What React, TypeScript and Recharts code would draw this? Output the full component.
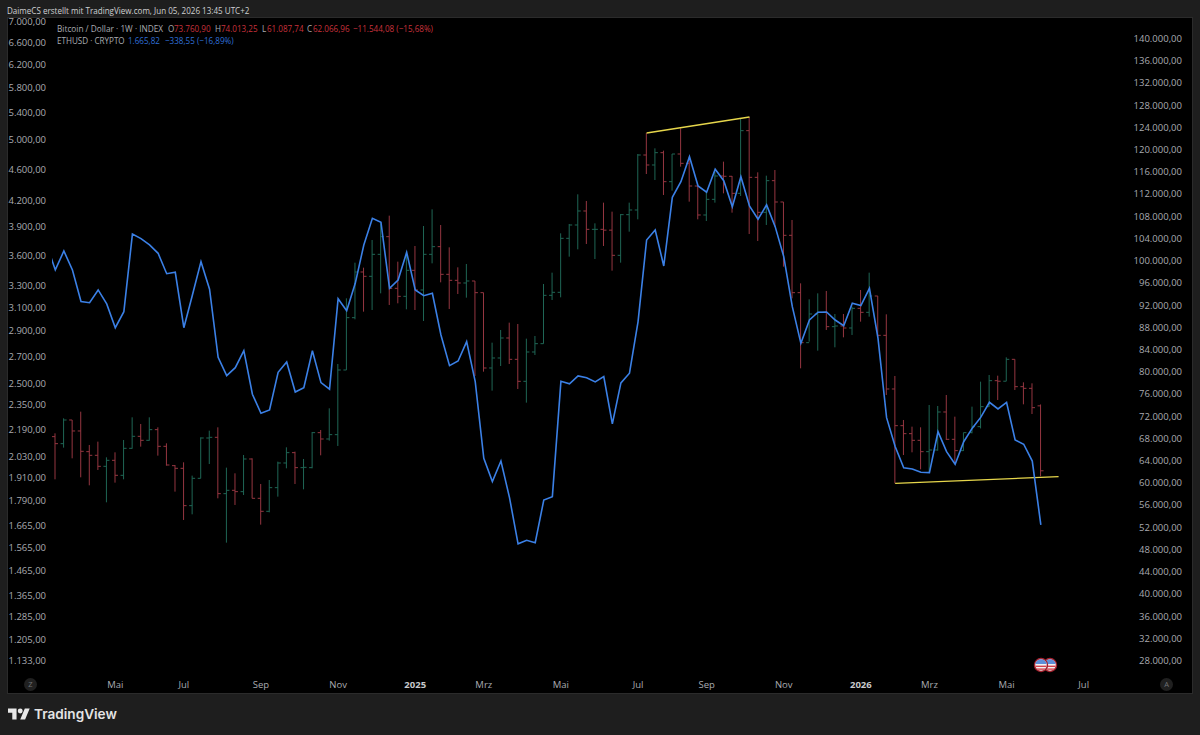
import React from "react";
import { ComposedChart, Bar, Line, XAxis, YAxis, ReferenceLine } from "recharts";

const btcOpen = [68215,66955,71216,69236,65514,64854,62873,63954,61252,66114,68275,67555,69476,66474,62993,62513,55791,60712,67975,68095,57951,58551,58311,64193,57111,54771,59032,63473,65334,62633,62633,68935,67795,68575,80219,89642,97865,97085,101046,104227,94924,93483,98165,94624,101046,102426,97445,96364,95884,96244,94144,80579,82380,85981,82139,78178,83460,84961,93663,94204,103927,106328,108849,105548,105548,105400,100866,108189,109029,118932,117132,119353,114131,119112,117432,113350,108129,110950,115151,115100,112030,123314,114911,108609,114311,110470,104468,94143,85140,90302,90602,88021,88141,87781,91322,90602,93543,86460,76797,70195,68755,67554,65513,65814,72656,67734,65694,68934,70015,73616,78298,78200,82139,77217,76917,73760.9];
const btcHigh = [68815,71516,71216,72716,66714,67315,64494,65394,67615,71696,70495,71696,69896,67014,63113,63593,61193,68095,69295,69896,62633,61613,64914,64314,59692,60412,63713,66294,65514,64193,69055,69415,73316,81300,93123,99545,98645,103627,106627,108008,99726,101526,102546,106147,109148,106327,102306,98705,99305,96244,94144,85140,87421,88742,88502,85861,86341,95704,97745,104827,106508,111850,110650,106628,110349,108729,108309,110349,119112,122894,120133,119713,119112,123734,118632,113350,112330,115931,117732,115151,125535,125775,115811,115211,116231,110470,107228,95824,92943,94023,94443,90302,90302,91622,94623,97744,93543,90242,79138,71215,70015,69895,73916,73736,75717,71816,68934,73616,78118,79318,79198,82499,82139,77997,77818,74013.25];
const btcLow = [60532,66234,64314,60892,59452,62213,56391,59932,60532,66054,66414,67495,64794,62993,58312,53210,54230,60712,63293,57111,49128,55911,57711,57111,52370,54590,57411,62513,59692,58732,62513,64854,67495,66535,80219,89342,90722,91022,94023,91923,92223,91143,91022,89042,99425,96004,91202,93903,93243,79138,79919,76498,80939,81299,76798,74337,82920,84961,92823,93303,100626,101947,102907,100206,102547,98105,99546,105128,107348,115511,114431,111730,112510,116832,110530,107348,107048,110349,112030,108549,111550,104708,103447,106328,106028,98826,93124,80519,85320,83700,87421,84300,86101,86520,88921,89822,86220,75717,59812,64913,65393,62332,61792,65694,67614,63413,65634,68815,69700,73600,74817,78200,76617,74036,72296,61087.74];
const btcClose = [66955,71216,69236,65574,64854,62873,63954,61252,66114,68275,67555,69476,66474,63113,62513,55791,60712,67975,68095,57951,58551,58311,64193,57111,54771,59032,63473,65334,62633,62693,68935,67795,68575,80219,89642,97865,97085,101046,104227,94924,93483,98165,94624,101046,102426,97445,96364,95884,96244,94144,80579,82380,85981,82139,78178,83460,84961,93663,94204,103927,106328,108849,105548,105548,105400,100866,108189,109029,118932,117132,119353,114131,119112,117432,113350,108129,110950,115151,115100,112030,123314,114911,108609,114311,110470,104468,94144,85140,90302,90602,88021,88141,87781,91322,90602,93543,86460,76797,70195,68755,67554,65513,65814,72656,67734,65694,68934,70015,73616,78298,78200,82139,77217,76917,73436,62066.96];
const ethClose = [3698,3444,3635,3444,3147,3137,3253,3126,2921,3058,3815,3765,3698,3611,3407,3421,2921,3207,3526,3260,2685,2548,2607,2736,2417,2289,2311,2573,2649,2432,2463,2736,2498,2452,3173,3066,3315,3698,3990,3945,3268,3347,3621,3253,3200,3222,2861,2622,2657,2808,2505,2014,1884,1998,1800,1578,1594,1583,1788,1805,2508,2490,2546,2533,2503,2541,2221,2496,2566,2973,3751,3859,3483,4236,4428,4755,4375,4297,4588,4441,4124,4492,4132,3979,4145,3896,3577,3102,2794,2986,3053,3055,2986,2938,3132,3111,3268,2834,2261,2082,1960,1953,1935,1933,2172,2052,1980,2111,2194,2264,2362,2318,2362,2122,2096,1998,1665.82];

const ethTicks = [7000,6600,6200,5800,5400,5000,4600,4200,3900,3600,3300,3100,2900,2700,2500,2350,2190,2030,1910,1790,1665,1565,1465,1365,1285,1205,1133];
const btcTicks = [140000,136000,132000,128000,124000,120000,116000,112000,108000,104000,100000,96000,92000,88000,84000,80000,76000,72000,68000,64000,60000,56000,52000,48000,44000,40000,36000,32000,28000];
const monthTicks = [7,15,24,33,42,50,59,68,76,85,94,102,111,120];
const monthLabels = ["Mai","Jul","Sep","Nov","2025","Mrz","Mai","Jul","Sep","Nov","2026","Mrz","Mai","Jul"];
const topTrend = [{ x: 69, y: 122894 }, { x: 81, y: 125775 }];
const bottomTrend = [{ x: 98, y: 59816 }, { x: 117.07, y: 61004 }];

const rows: any[] = ethClose.map((eth, k) => {
  const idx = k - 1;
  const b = idx >= 0;
  return {
    idx,
    eth,
    open: b ? btcOpen[idx] : null,
    high: b ? btcHigh[idx] : null,
    low: b ? btcLow[idx] : null,
    close: b ? btcClose[idx] : null,
  };
});

const FONT = "'Open Sans', 'Noto Sans', sans-serif";
const GREEN = "#1f6655";
const RED = "#953640";
const BLUE = "#3b80e6";
const YELLOW = "#e6d64b";
const LABEL = "#a9abb0";
const LEG_RED = "#c8323c";

const fmt = (v: number) =>
  v.toFixed(2).replace(".", ",").replace(/\B(?=(\d{3})+(?!\d))/g, ".");

const OhlcShape = (p: any) => {
  const d = p.payload;
  if (!d || d.open == null || !p.height) return null;
  const cx = p.x + p.width / 2;
  const toY = (v: number) => p.y + ((d.high - v) / (d.high - d.low)) * p.height;
  const color = d.close >= d.open ? GREEN : RED;
  return (
    <g stroke={color} strokeWidth={1} fill="none">
      <line x1={cx} x2={cx} y1={p.y} y2={p.y + p.height} />
      <line x1={cx - 3} x2={cx} y1={toY(d.open)} y2={toY(d.open)} />
      <line x1={cx} x2={cx + 3} y1={toY(d.close)} y2={toY(d.close)} />
    </g>
  );
};

const EthTick = (p: any) => (
  <text x={38} y={p.y + 4.2} textAnchor="end" fontSize={9.5} fontFamily={FONT} fill={LABEL}>
    {fmt(p.payload.value)}
  </text>
);
const BtcTick = (p: any) => (
  <text x={1174} y={p.y + 4} textAnchor="end" fontSize={9.5} fontFamily={FONT} fill={LABEL}>
    {fmt(p.payload.value)}
  </text>
);
const MonthTick = (p: any) => {
  const label = monthLabels[monthTicks.indexOf(p.payload.value)];
  const bold = label === "2025" || label === "2026";
  return (
    <text x={p.x} y={680} textAnchor="middle" fontSize={9.5} fontWeight={bold ? 700 : 400} fontFamily={FONT} fill={bold ? "#c8c9cc" : LABEL}>
      {label}
    </text>
  );
};

const Flag = ({ left }: { left: number }) => (
  <svg style={{ position: "absolute", left, top: 657 }} width={16} height={16} viewBox="0 0 16 16">
    <defs>
      <clipPath id={"f" + left}><circle cx={8} cy={8} r={5.8} /></clipPath>
    </defs>
    <circle cx={8} cy={8} r={7.2} fill="#a3202c" />
    <g clipPath={`url(#f${left})`}>
      <rect x={0} y={0} width={16} height={16} fill="#f2f2f2" />
      <rect x={0} y={0} width={16} height={7} fill="#5d8fd8" />
      <rect x={0} y={8.6} width={16} height={1.4} fill="#d5434d" />
      <rect x={0} y={11.4} width={16} height={1.4} fill="#d5434d" />
    </g>
  </svg>
);

const Round = ({ left, ch }: { left: number; ch: string }) => (
  <div style={{ position: "absolute", left, top: 678, width: 13, height: 13, borderRadius: 7, background: "#202020", color: "#6f7074", fontSize: 7.5, lineHeight: "13px", textAlign: "center", fontFamily: FONT }}>
    {ch}
  </div>
);

const Leg = ({ left, top, color, sx = 0.88, children }: any) => (
  <span style={{ position: "absolute", left, top, fontSize: 9.2, lineHeight: "12px", fontFamily: FONT, whiteSpace: "nowrap", color: color || LABEL, transform: `scaleX(${sx})`, transformOrigin: "left center" }}>
    {children}
  </span>
);

export default function App() {
  return (
    <div style={{ position: "fixed", left: 0, top: 0, width: 1200, height: 735, background: "#1e1e1e", overflow: "hidden" }}>
      <div style={{ position: "absolute", left: 7, top: 4.5, fontSize: 9.6, lineHeight: "12px", color: "#cfd0d2", fontFamily: FONT, whiteSpace: "nowrap", transform: "scaleX(0.84)", transformOrigin: "left center" }}>
        DaimeCS erstellt mit TradingView.com, Jun 05, 2026 13:45 UTC+2
      </div>
      <div style={{ position: "absolute", left: 8, top: 18, width: 1184, height: 675, background: "#000", outline: "1px solid #2b2b2b" }} />
      <div style={{ position: "absolute", left: 8, top: 8 }}>
        <ComposedChart width={1184} height={685} data={rows} margin={{ top: 10, right: 0, bottom: 0, left: 0 }}>
          <XAxis
            dataKey="idx"
            type="number"
            scale="linear"
            domain={[-0.385, 124.47]}
            allowDataOverflow
            ticks={monthTicks}
            interval={0}
            height={17}
            axisLine={false}
            tickLine={false}
            tick={MonthTick}
          />
          <YAxis
            yAxisId="eth"
            orientation="left"
            scale="log"
            domain={[1082.9, 7060]}
            allowDataOverflow
            ticks={ethTicks}
            interval={0}
            width={44}
            axisLine={false}
            tickLine={false}
            tick={EthTick}
          />
          <YAxis
            yAxisId="btc"
            orientation="right"
            domain={[25116, 143602]}
            allowDataOverflow
            ticks={btcTicks}
            interval={0}
            width={70}
            axisLine={false}
            tickLine={false}
            tick={BtcTick}
          />
          <Bar yAxisId="btc" dataKey={(d: any) => (d.open == null ? null : [d.low, d.high])} barSize={6} shape={OhlcShape} isAnimationActive={false} />
          <ReferenceLine yAxisId="btc" segment={topTrend} stroke={YELLOW} strokeWidth={1.3} ifOverflow="visible" />
          <ReferenceLine yAxisId="btc" segment={bottomTrend} stroke={YELLOW} strokeWidth={1.3} ifOverflow="visible" />
          <Line yAxisId="eth" dataKey="eth" stroke={BLUE} strokeWidth={1.6} dot={false} activeDot={false} isAnimationActive={false} />
        </ComposedChart>
      </div>

      <Leg left={57} top={23} sx={0.9}>Bitcoin / Dollar · 1W · INDEX</Leg>
      <Leg left={168} top={23}>O</Leg>
      <Leg left={174} top={23} color={LEG_RED}>73.760,90</Leg>
      <Leg left={215} top={23}>H</Leg>
      <Leg left={221} top={23} color={LEG_RED}>74.013,25</Leg>
      <Leg left={262} top={23}>L</Leg>
      <Leg left={267} top={23} color={LEG_RED}>61.087,74</Leg>
      <Leg left={307} top={23}>C</Leg>
      <Leg left={313} top={23} color={LEG_RED}>62.066,96</Leg>
      <Leg left={353} top={23} color={LEG_RED}>−11.544,08 (−15,68%)</Leg>
      <Leg left={57} top={35}>ETHUSD · CRYPTO</Leg>
      <Leg left={128} top={35} color="#2f6fd6">1.665,82</Leg>
      <Leg left={165} top={35} color="#2f6fd6">−338,55 (−16,89%)</Leg>

      <Flag left={1042} />
      <Flag left={1033} />
      <Round left={24} ch="Z" />
      <Round left={1160} ch="A" />

      <svg style={{ position: "absolute", left: 8, top: 706 }} width={22} height={16} viewBox="0 0 36 26">
        <path d="M14 22H7V11H0V4h14v18zM28 22h-8l7.5-18h8L28 22z" fill="#e8e8e8" />
        <circle cx={20} cy={8} r={4} fill="#e8e8e8" />
      </svg>
      <div style={{ position: "absolute", left: 34, top: 704, fontSize: 13.6, lineHeight: "20px", fontWeight: 600, color: "#e4e4e4", fontFamily: "Inter, Roboto, sans-serif" }}>
        TradingView
      </div>
    </div>
  );
}
